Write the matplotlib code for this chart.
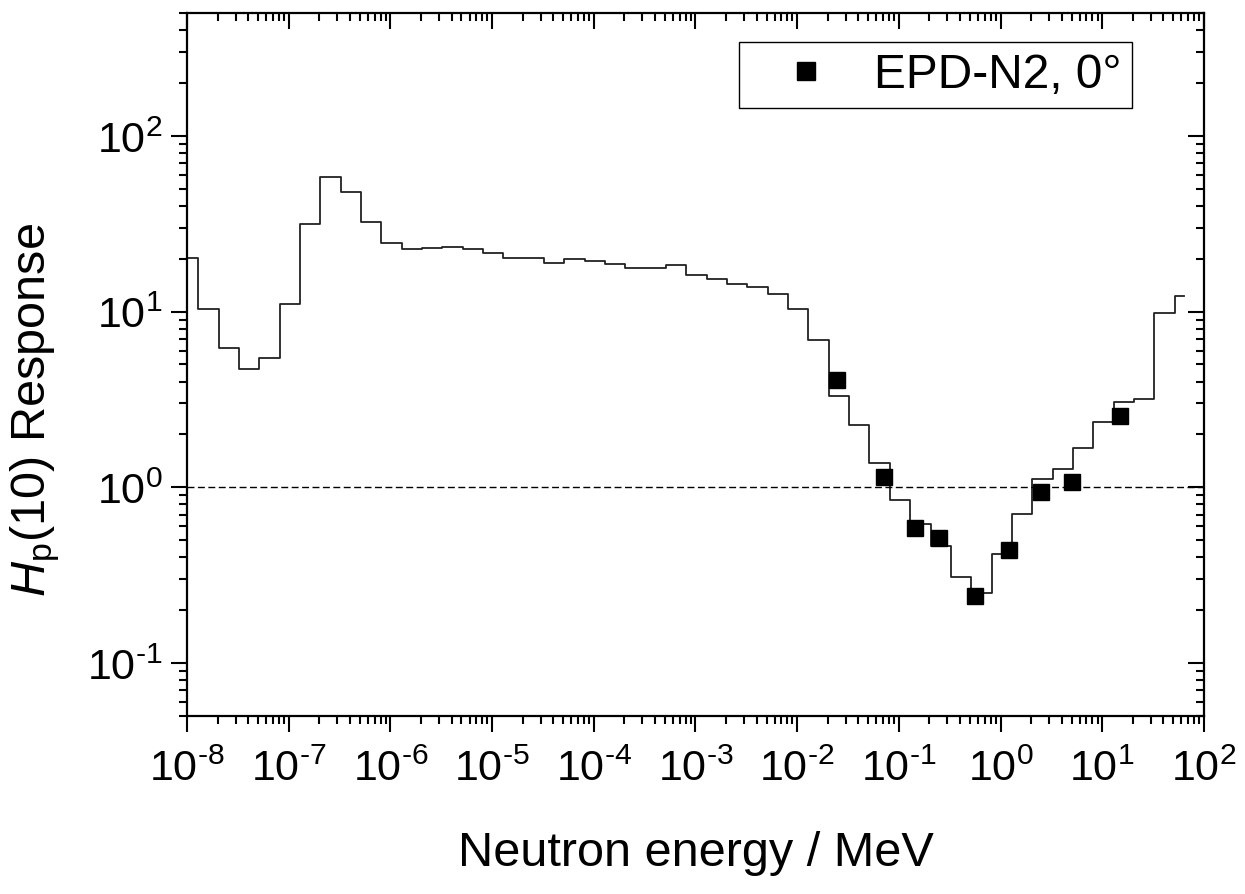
import matplotlib

matplotlib.use("Agg")
import matplotlib.pyplot as plt
import numpy as np
from matplotlib.ticker import FuncFormatter, LogLocator, NullFormatter

plt.rcParams["font.family"] = ["Liberation Sans", "DejaVu Sans"]
plt.rcParams["mathtext.fontset"] = "custom"
plt.rcParams["mathtext.rm"] = "Liberation Sans"
plt.rcParams["mathtext.it"] = "Liberation Sans:italic"
plt.rcParams["mathtext.bf"] = "Liberation Sans:bold"

# calculated response, bin centres in log10(E / MeV)
log_energy = [
    -8.0, -7.8, -7.6, -7.4, -7.2, -7.0, -6.8, -6.6, -6.4, -6.2,
    -6.0, -5.8, -5.6, -5.4, -5.2, -5.0, -4.8, -4.6, -4.4, -4.2,
    -4.0, -3.8, -3.6, -3.4, -3.2, -3.0, -2.8, -2.6, -2.4, -2.2,
    -2.0, -1.8, -1.6, -1.4, -1.2, -1.0, -0.8, -0.6, -0.4, -0.2,
    0.0, 0.2, 0.4, 0.6, 0.8, 1.0, 1.2, 1.4, 1.6, 1.8,
]
response_calc = [
    20.3, 10.3, 6.24, 4.71, 5.42, 11.0, 31.5, 58.3, 47.6, 32.2,
    24.5, 22.7, 22.9, 23.2, 22.7, 21.4, 20.3, 20.3, 19.0, 19.8,
    19.3, 18.7, 17.7, 17.7, 18.3, 16.2, 15.4, 14.3, 13.8, 12.6,
    10.4, 6.93, 3.31, 2.26, 1.37, 0.847, 0.616, 0.466, 0.309, 0.251,
    0.417, 0.702, 1.11, 1.27, 1.67, 2.35, 3.05, 3.20, 9.78, 12.3,
]

# measured points
meas_energy = [0.0245, 0.071, 0.144, 0.25, 0.565, 1.2, 2.5, 5.0, 14.8]
meas_response = [4.08, 1.14, 0.59, 0.513, 0.240, 0.440, 0.945, 1.07, 2.55]


def pow10(v, pos):
    e = int(round(np.log10(v)))
    s = str(e).replace("-", "\u2010")
    return r"$10^{\mathrm{%s}}$" % s


def main():
    fig = plt.figure(figsize=(12.45, 8.95), dpi=100)
    ax = fig.add_axes([0.1502, 0.1989, 0.8168, 0.7855])

    energy = 10.0 ** np.array(log_energy)
    ax.plot(energy, response_calc, drawstyle="steps-mid", color="#222222", lw=1.3)
    ax.axhline(1.0, color="black", lw=1.0, ls=(0, (5, 2.5)))
    ax.plot(meas_energy, meas_response, "s", color="black", ms=11.5,
            label="EPD-N2, 0°", zorder=5)

    ax.set_xscale("log")
    ax.set_yscale("log")
    ax.set_xlim(1e-8, 1e2)
    ax.set_ylim(0.05, 500)

    for axis in (ax.xaxis, ax.yaxis):
        axis.set_major_locator(LogLocator(base=10, numticks=20))
        axis.set_minor_locator(LogLocator(base=10, subs=np.arange(2, 10), numticks=200))
        axis.set_major_formatter(FuncFormatter(pow10))
        axis.set_minor_formatter(NullFormatter())

    for s in ax.spines.values():
        s.set_linewidth(1.6)

    ax.tick_params(which="both", top=True, right=True, width=1.5, labelsize=31)
    ax.tick_params(which="major", length=11.5)
    ax.tick_params(which="minor", length=6)
    ax.tick_params(axis="x", which="both", direction="out", pad=12)
    ax.tick_params(axis="y", which="both", direction="out", pad=6)
    # Origin style: opposite axes tick inward
    for t in ax.xaxis.get_major_ticks() + ax.xaxis.get_minor_ticks():
        t.tick2line.set_marker(3)
    for t in ax.yaxis.get_major_ticks() + ax.yaxis.get_minor_ticks():
        t.tick2line.set_marker(0)

    ax.set_xlabel("Neutron energy / MeV", fontsize=35)
    ax.xaxis.set_label_coords(0.5, -0.162)
    ax.set_ylabel(r"$H_\mathrm{p}$(10) Response", fontsize=35)
    ax.yaxis.set_label_coords(-0.123, 0.437)

    leg = ax.legend(loc="upper right", bbox_to_anchor=(0.929, 0.959),
                    borderaxespad=0, fontsize=34.5, fancybox=False,
                    edgecolor="black", framealpha=1, handlelength=2.35,
                    handletextpad=0.24, borderpad=0.22, markerscale=1.1)
    leg.get_frame().set_linewidth(1.0)

    fig.savefig("out.png", dpi=100)
    plt.close(fig)


if __name__ == "__main__":
    main()
